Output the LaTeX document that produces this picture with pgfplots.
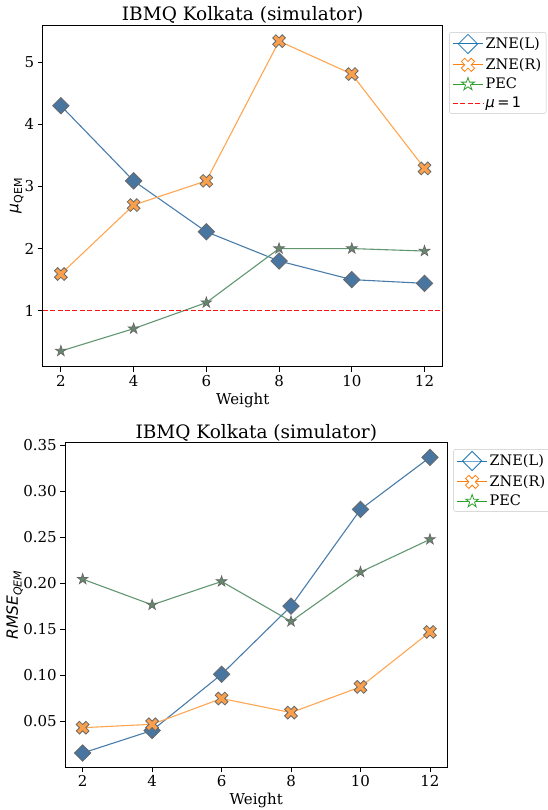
\documentclass[border=0pt]{standalone}
\usepackage{fontspec}
\setmainfont{DejaVu Serif}
\newfontfamily\dvsans{DejaVu Sans}
\usepackage{pgfplots}
\pgfplotsset{compat=1.18}

% line colours (softened) and marker fills
\definecolor{lblue}{RGB}{74,124,170}
\definecolor{lorange}{RGB}{255,166,82}
\definecolor{lgreen}{RGB}{98,150,112}
\definecolor{fblue}{RGB}{72,118,160}
\definecolor{forange}{RGB}{250,160,76}
\definecolor{fgreen}{RGB}{100,136,108}
\definecolor{medge}{RGB}{105,105,105}
\definecolor{refred}{RGB}{255,20,20}
% legend colours
\definecolor{tabblue}{HTML}{1F77B4}
\definecolor{taborange}{HTML}{FF7F0E}
\definecolor{tabgreen}{HTML}{2CA02C}

% filled "X" marker
\pgfdeclareplotmark{fatx}{%
  \pgftransformrotate{45}%
  \pgfpathmoveto{\pgfqpoint{0.33\pgfplotmarksize}{0.33\pgfplotmarksize}}%
  \pgfpathlineto{\pgfqpoint{0.33\pgfplotmarksize}{\pgfplotmarksize}}%
  \pgfpathlineto{\pgfqpoint{-0.33\pgfplotmarksize}{\pgfplotmarksize}}%
  \pgfpathlineto{\pgfqpoint{-0.33\pgfplotmarksize}{0.33\pgfplotmarksize}}%
  \pgfpathlineto{\pgfqpoint{-\pgfplotmarksize}{0.33\pgfplotmarksize}}%
  \pgfpathlineto{\pgfqpoint{-\pgfplotmarksize}{-0.33\pgfplotmarksize}}%
  \pgfpathlineto{\pgfqpoint{-0.33\pgfplotmarksize}{-0.33\pgfplotmarksize}}%
  \pgfpathlineto{\pgfqpoint{-0.33\pgfplotmarksize}{-\pgfplotmarksize}}%
  \pgfpathlineto{\pgfqpoint{0.33\pgfplotmarksize}{-\pgfplotmarksize}}%
  \pgfpathlineto{\pgfqpoint{0.33\pgfplotmarksize}{-0.33\pgfplotmarksize}}%
  \pgfpathlineto{\pgfqpoint{\pgfplotmarksize}{-0.33\pgfplotmarksize}}%
  \pgfpathlineto{\pgfqpoint{\pgfplotmarksize}{0.33\pgfplotmarksize}}%
  \pgfpathclose
  \pgfusepathqfillstroke
}
% filled five-point star
\pgfdeclareplotmark{fstar}{%
  \pgfpathmoveto{\pgfpointpolar{90}{\pgfplotmarksize}}%
  \pgfpathlineto{\pgfpointpolar{126}{0.382\pgfplotmarksize}}%
  \pgfpathlineto{\pgfpointpolar{162}{\pgfplotmarksize}}%
  \pgfpathlineto{\pgfpointpolar{198}{0.382\pgfplotmarksize}}%
  \pgfpathlineto{\pgfpointpolar{234}{\pgfplotmarksize}}%
  \pgfpathlineto{\pgfpointpolar{270}{0.382\pgfplotmarksize}}%
  \pgfpathlineto{\pgfpointpolar{306}{\pgfplotmarksize}}%
  \pgfpathlineto{\pgfpointpolar{342}{0.382\pgfplotmarksize}}%
  \pgfpathlineto{\pgfpointpolar{18}{\pgfplotmarksize}}%
  \pgfpathlineto{\pgfpointpolar{54}{0.382\pgfplotmarksize}}%
  \pgfpathclose
  \pgfusepathqfillstroke
}

\pgfplotsset{
  qem/.style={
    scale only axis,
    xmin=1.5, xmax=12.5,
    xtick={2,4,6,8,10,12},
    tick align=outside,
    tick pos=left,
    major tick length=5pt,
    every tick/.style={black, line width=0.8pt},
    axis line style={line width=0.8pt},
    /pgf/number format/assume math mode=true,
    tick label style={font=\fontsize{15}{15}\selectfont},
    title style={font=\fontsize{18.5}{18.5}\selectfont, at={(0.5,1)}, anchor=base, yshift=-1.5pt},
    xlabel style={font=\fontsize{15}{15}\selectfont, at={(axis description cs:0.5,0)}, anchor=base, yshift=-37.5pt},
    legend cell align=left,
    legend style={font=\fontsize{14.5}{14.5}\selectfont, draw=black!22, rounded corners=2pt,
      anchor=north west, inner xsep=3pt, inner ysep=2pt, row sep=3pt},
    legend image code/.code={%
      \draw[mark repeat=2,mark phase=2,#1] plot coordinates {(0pt,0pt)(15pt,0pt)(30pt,0pt)};},
  },
  zl/.style={lblue, line width=1.1pt, mark=square*, mark size=5.8pt,
    mark options={rotate=45, fill=fblue, draw=medge, line width=0.8pt, solid}},
  zr/.style={lorange, line width=1.1pt, mark=fatx, mark size=6.8pt,
    mark options={fill=forange, draw=medge, line width=0.8pt, solid}},
  pe/.style={lgreen, line width=1.1pt, mark=fstar, mark size=5.6pt,
    mark options={fill=fgreen, draw=medge, line width=0.7pt, solid}},
  zlleg/.style={tabblue, line width=1pt, mark=square, mark size=6.8pt,
    mark options={rotate=45, fill=white, line width=0.8pt, solid}},
  zrleg/.style={taborange, line width=1pt, mark=fatx, mark size=7pt,
    mark options={fill=white, line width=0.8pt, solid}},
  peleg/.style={tabgreen, line width=1pt, mark=fstar, mark size=6.8pt,
    mark options={fill=white, line width=0.8pt, solid}},
}

\begin{document}
\begin{tikzpicture}[x=1pt,y=1pt]
\path[use as bounding box] (0,0) rectangle (547,810);

% ---- mean mitigation factor ----
\begin{axis}[qem,
  at={(42.7pt,443.3pt)}, anchor=south west,
  width=400pt, height=341.7pt,
  ymin=0.098, ymax=5.60,
  ytick={1,2,3,4,5},
  title={IBMQ Kolkata (simulator)},
  xlabel={Weight},
  ylabel={{\dvsans\itshape μ}\raisebox{-0.45ex}{\dvsans\fontsize{11}{11}\selectfont QEM}},
  ylabel style={font=\fontsize{15.5}{15.5}\selectfont, at={([xshift=-26pt]axis description cs:0,0.5)}, anchor=center},
  legend style={at={(1.016,0.979)}},
]
\addlegendimage{zlleg}\addlegendentry{ZNE(L)}
\addlegendimage{zrleg}\addlegendentry{ZNE(R)}
\addlegendimage{peleg}\addlegendentry{PEC}
\addlegendimage{legend image code/.code={%
  \draw[draw=refred, line width=1.3pt, dash pattern=on 5pt off 2.4pt] (0pt,0pt) -- (30pt,0pt);}}
\addlegendentry{{\dvsans\itshape μ}\,{\dvsans =\,1}}

\addplot[zl, forget plot] coordinates {(2,4.30) (4,3.09) (6,2.27) (8,1.80) (10,1.50) (12,1.44)};
\addplot[zr, forget plot] coordinates {(2,1.59) (4,2.70) (6,3.09) (8,5.34) (10,4.81) (12,3.29)};
\addplot[pe, forget plot] coordinates {(2,0.35) (4,0.71) (6,1.13) (8,2.00) (10,2.00) (12,1.96)};
\addplot[refred, line width=1.2pt, dash pattern=on 5pt off 2.4pt, forget plot] coordinates {(1.5,1) (12.5,1)};
\end{axis}

% ---- RMSE ----
\begin{axis}[qem,
  at={(65.3pt,42.7pt)}, anchor=south west,
  width=382pt, height=324.6pt,
  ymin=0.0, ymax=0.3525,
  ytick={0.05,0.10,0.15,0.20,0.25,0.30,0.35},
  yticklabel style={/pgf/number format/fixed, /pgf/number format/fixed zerofill, /pgf/number format/precision=2},
  title={IBMQ Kolkata (simulator)},
  xlabel={Weight},
  ylabel={{\dvsans\itshape RMSE\raisebox{-0.45ex}{\fontsize{11}{11}\selectfont QEM}}},
  ylabel style={font=\fontsize{15.5}{15.5}\selectfont, at={([xshift=-50.5pt]axis description cs:0,0.5)}, anchor=center},
  legend style={at={(1.016,0.98)}},
]
\addlegendimage{zlleg}\addlegendentry{ZNE(L)}
\addlegendimage{zrleg}\addlegendentry{ZNE(R)}
\addlegendimage{peleg}\addlegendentry{PEC}

\addplot[zl, forget plot] coordinates {(2,0.0155) (4,0.040) (6,0.101) (8,0.175) (10,0.280) (12,0.3366)};
\addplot[zr, forget plot] coordinates {(2,0.043) (4,0.0467) (6,0.0747) (8,0.0594) (10,0.0873) (12,0.147)};
\addplot[pe, forget plot] coordinates {(2,0.2043) (4,0.1764) (6,0.2018) (8,0.1584) (10,0.212) (12,0.2475)};
\end{axis}
\end{tikzpicture}
\end{document}
